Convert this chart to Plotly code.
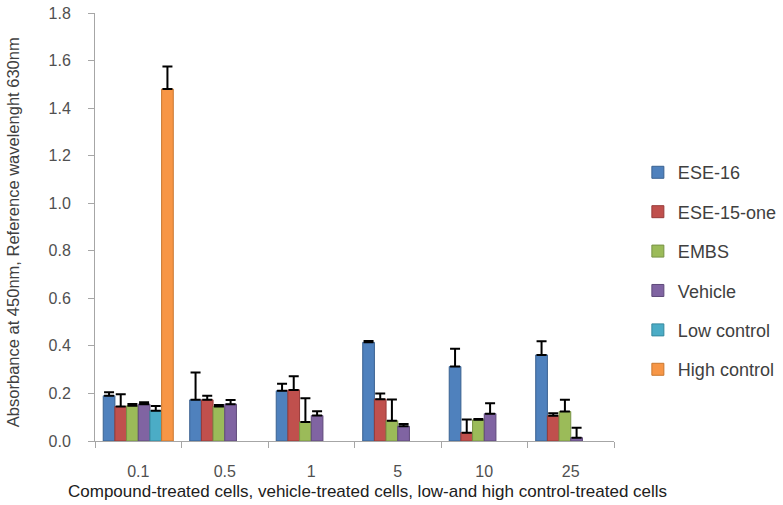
import plotly.graph_objects as go

categories = ["0.1", "0.5", "1", "5", "10", "25"]
series_names = ["ESE-16", "ESE-15-one", "EMBS", "Vehicle", "Low control", "High control"]

ese16 = [0.19, 0.173, 0.211, 0.415, 0.313, 0.362]
ese16_err = [0.015, 0.115, 0.03, 0.006, 0.075, 0.057]
ese15one = [0.145, 0.173, 0.215, 0.176, 0.035, 0.106]
ese15one_err = [0.052, 0.017, 0.057, 0.024, 0.055, 0.011]
embs = [0.148, 0.145, 0.08, 0.085, 0.089, 0.124]
embs_err = [0.008, 0.006, 0.1, 0.09, 0.004, 0.049]
vehicle = [0.155, 0.155, 0.107, 0.062, 0.115, 0.014]
vehicle_err = [0.008, 0.017, 0.018, 0.01, 0.044, 0.042]
low_control = [0.127, None, None, None, None, None]
low_control_err = [0.02, 0, 0, 0, 0, 0]
high_control = [1.48, None, None, None, None, None]
high_control_err = [0.095, 0, 0, 0, 0, 0]

y_title = "Absorbance at 450nm, Reference wavelenght 630nm"
x_title = "Compound-treated cells, vehicle-treated cells, low-and high control-treated cells"

values = [ese16, ese15one, embs, vehicle, low_control, high_control]
errors = [ese16_err, ese15one_err, embs_err, vehicle_err, low_control_err, high_control_err]
colors = ["#4F81BD", "#C0504D", "#9BBB59", "#8064A2", "#4BACC6", "#F79646"]
edges = ["#3A6190", "#983B39", "#789345", "#5F4A7A", "#35889D", "#C9772F"]

fig = go.Figure()
for name, v, e, c, ec in zip(series_names, values, errors, colors, edges):
    fig.add_trace(go.Bar(
        x=categories, y=v, name=name, legendgroup=name,
        marker=dict(color=c, line=dict(color=ec, width=1)),
        error_y=dict(type="data", array=e, arrayminus=[0] * len(e), symmetric=False,
                     color="black", thickness=2, width=5),
    ))

FONT = "Liberation Sans, Arial, sans-serif"
tick_font = dict(family=FONT, size=16, color="#505050")
fig.update_layout(
    width=783, height=505,
    margin=dict(l=95, r=169, t=13, b=64, autoexpand=False),
    paper_bgcolor="white", plot_bgcolor="white",
    barmode="group", bargap=0.19, bargroupgap=0,
    font=dict(family=FONT, color="#404040"),
    legend=dict(x=1.046, y=0.397, yanchor="middle", xanchor="left",
                font=dict(size=18, color="#404040"), tracegroupgap=13,
                itemwidth=30),
    showlegend=True,
    annotations=[
        dict(text=y_title, textangle=-90, xref="paper", yref="paper", x=0, y=0.488,
             xanchor="center", yanchor="middle", xshift=-82, showarrow=False,
             font=dict(family=FONT, size=16.5, color="#404040")),
        dict(text=x_title, xref="paper", yref="paper", x=0.525, y=0,
             xanchor="center", yanchor="middle", yshift=-50, showarrow=False,
             font=dict(family=FONT, size=17, color="#202020")),
    ],
)
fig.update_yaxes(range=[0, 1.8], dtick=0.2, tickformat=".1f", automargin=False,
                 showgrid=False, zeroline=False, showline=True, linecolor="#A6A6A6",
                 ticks="outside", ticklen=6, tickcolor="#A6A6A6", ticklabelstandoff=14,
                 ticklabeloverflow="allow", tickfont=tick_font)
fig.update_xaxes(showgrid=False, showline=True, linecolor="#A6A6A6", automargin=False,
                 ticks="outside", ticklen=6, tickcolor="#A6A6A6", tickson="boundaries",
                 ticklabelstandoff=16, tickfont=tick_font)

fig.write_html("out.html", config={"displayModeBar": False},
               post_script="document.body.style.margin='0px';")
